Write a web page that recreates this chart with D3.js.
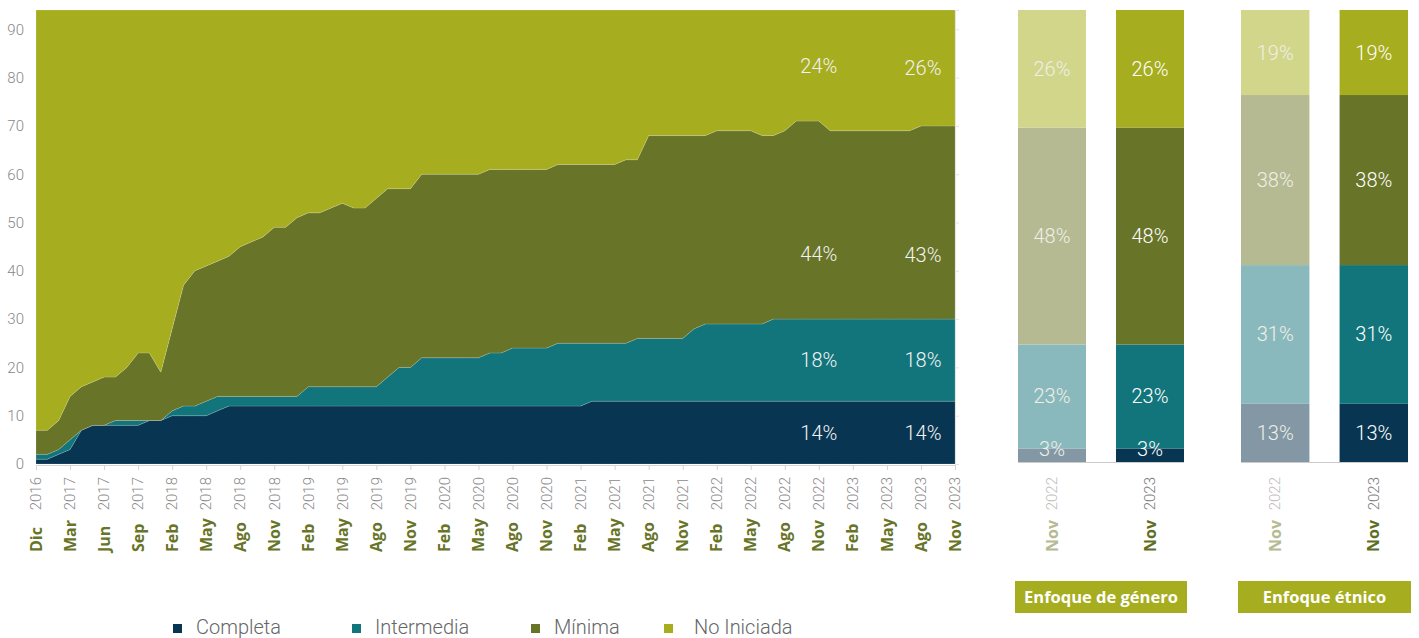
<!DOCTYPE html>
<html>
<head>
<meta charset="utf-8">
<script src="https://cdn.jsdelivr.net/npm/d3@7"></script>
<style>
body { margin: 0; background: #fff; }
svg { display: block; font-family: Roboto, sans-serif; }
</style>
</head>
<body>
<svg id="chart" width="1419" height="638"></svg>
<script>
// series names, bottom to top
var seriesNames = ["Completa", "Intermedia", "Mínima", "No Iniciada"];

// x tick labels (one every 3 data points)
var tickMonths = ["Dic", "Mar", "Jun", "Sep", "Feb", "May", "Ago", "Nov", "Feb", "May", "Ago", "Nov",
    "Feb", "May", "Ago", "Nov", "Feb", "May", "Ago", "Nov", "Feb", "May", "Ago", "Nov",
    "Feb", "May", "Ago", "Nov"];
var tickYears = ["2016", "2017", "2017", "2017", "2018", "2018", "2018", "2018", "2019", "2019", "2019", "2019",
    "2020", "2020", "2020", "2020", "2021", "2021", "2021", "2021", "2022", "2022", "2022", "2022",
    "2023", "2023", "2023", "2023"];

// number of measures in each state, per report
var completa = [1, 1, 2, 3, 7, 8, 8, 8, 8, 8, 9, 9, 10, 10, 10, 10, 11,
    12, 12, 12, 12, 12, 12, 12, 12, 12, 12, 12, 12, 12, 12, 12, 12, 12, 12, 12, 12, 12, 12, 12, 12, 12, 12, 12, 12, 12, 12, 12, 12,
    13, 13, 13, 13, 13, 13, 13, 13, 13, 13, 13, 13, 13, 13, 13, 13, 13, 13, 13, 13, 13, 13, 13, 13, 13, 13, 13, 13, 13, 13, 13, 13, 13];
var intermedia = [1, 1, 1, 2, 0, 0, 0, 1, 1, 1, 0, 0, 1, 2, 2, 3, 3, 2, 2, 2, 2, 2, 2, 2,
    4, 4, 4, 4, 4, 4, 4, 6, 8, 8, 10, 10, 10, 10, 10, 10, 11, 11, 12, 12, 12, 12, 13, 13, 13,
    12, 12, 12, 12, 13, 13, 13, 13, 13, 15, 16, 16, 16, 16, 16, 16,
    17, 17, 17, 17, 17, 17, 17, 17, 17, 17, 17, 17, 17, 17, 17, 17, 17];
var minima = [5, 5, 6, 9, 9, 9, 10, 9, 11, 14, 14, 10, 17, 25, 28, 28, 28, 29, 31, 32, 33, 35, 35, 37,
    36, 36, 37, 38, 37, 37, 39, 39, 37, 37, 38, 38, 38, 38, 38, 38, 38, 38, 37, 37, 37, 37, 37, 37, 37,
    37, 37, 37, 38, 37, 42, 42, 42, 42, 40, 39, 40, 40, 40, 40, 39, 38, 39, 41, 41, 41,
    39, 39, 39, 39, 39, 39, 39, 39, 40, 40, 40, 40];
var noIniciada = [87, 87, 85, 80, 78, 77, 76, 76, 74, 71, 71, 75, 66, 57, 54, 53, 52, 51, 49, 48, 47, 45, 45, 43,
    42, 42, 41, 40, 41, 41, 39, 37, 37, 37, 34, 34, 34, 34, 34, 34, 33, 33, 33, 33, 33, 33, 32, 32, 32,
    32, 32, 32, 31, 31, 26, 26, 26, 26, 26, 26, 25, 25, 25, 25, 26, 26, 25, 23, 23, 23,
    25, 25, 25, 25, 25, 25, 25, 25, 24, 24, 24, 24];

// indexes of the two reports that get % labels
var labelPoints = [69, 81];

// side bars (%)
var barPeriods = ["Nov 2022", "Nov 2023"];
var genero2022 = [3, 23, 48, 26];
var genero2023 = [3, 23, 48, 26];
var etnico2022 = [13, 31, 38, 19];
var etnico2023 = [13, 31, 38, 19];

var colors = ["#083652", "#12757c", "#687427", "#a6ad1e"];
var faded = ["#8397a5", "#8ab9bd", "#b5ba92", "#d2d68b"];

var svg = d3.select("#chart");

// ---------- area chart ----------
var rows = completa.map(function(d, i) {
    return {
        "Completa": completa[i],
        "Intermedia": intermedia[i],
        "Mínima": minima[i],
        "No Iniciada": noIniciada[i]
    };
});

var stack = d3.stack().keys(seriesNames)(rows);

var x = d3.scaleLinear()
    .domain([0, rows.length - 1])
    .range([36, 955]);

var y = d3.scaleLinear()
    .domain([0, d3.max(stack[stack.length - 1], d => d[1])])
    .range([464, 10]);

var area = d3.area()
    .x((d, i) => x(i))
    .y0(d => y(d[0]))
    .y1(d => y(d[1]));

svg.append("g")
    .selectAll("path")
    .data(stack)
    .enter()
    .append("path")
    .attr("d", area)
    .attr("fill", (d, i) => colors[i])
    .attr("stroke", "rgba(255,255,255,0.25)")
    .attr("stroke-width", 0.6);

// left axis labels
var leftAxis = svg.append("g")
    .attr("transform", "translate(36,0)")
    .call(d3.axisLeft(y).tickValues(d3.range(0, 91, 10)).tickSize(0).tickPadding(12));
leftAxis.select(".domain").remove();
leftAxis.selectAll("text")
    .attr("font-family", "Roboto")
    .attr("font-size", 15)
    .attr("font-weight", 300)
    .attr("fill", "#888");

// faint right axis
var rightAxis = svg.append("g")
    .attr("transform", "translate(955,0)")
    .call(d3.axisRight(y).tickValues(d3.range(0, 91, 10)).tickSize(4).tickFormat(""));
rightAxis.selectAll("path, line").attr("stroke", "#e4e4e4");

// bottom axis
var tickIdx = d3.range(0, rows.length, 3);
var bottomAxis = svg.append("g")
    .attr("transform", "translate(0,465)")
    .call(d3.axisBottom(x).tickValues(tickIdx).tickSize(5).tickFormat(""));
bottomAxis.selectAll("path, line").attr("stroke", "#d4d4d4");

function rotLabel(g, cx, month, year, monthColor, yearColor) {
    g.append("text")
        .attr("transform", `translate(${cx},477) rotate(-90)`)
        .attr("text-anchor", "end")
        .attr("dy", "0.35em")
        .attr("font-family", "Roboto")
        .attr("font-weight", 300)
        .attr("font-size", 15)
        .attr("fill", yearColor)
        .text(year);
    g.append("text")
        .attr("transform", `translate(${cx},552) rotate(-90)`)
        .attr("text-anchor", "start")
        .attr("dy", "0.35em")
        .attr("font-family", "Open Sans")
        .attr("font-weight", 700)
        .attr("font-size", 16)
        .attr("fill", monthColor)
        .text(month);
}

var xLabels = svg.append("g");
tickIdx.forEach(function(idx, k) {
    rotLabel(xLabels, x(idx), tickMonths[k], tickYears[k], "#687427", "#8a8a8a");
});

// % labels inside the area (the Mínima one sits lower in its band)
var labelShift = [0, -32];
var labelFrac = [0.5, 0.5, 0.33, 0.5];
labelPoints.forEach(function(idx, k) {
    var total = d3.sum(seriesNames, s => rows[idx][s]);
    stack.forEach(function(layer, j) {
        var seg = layer[idx];
        var v = seg[1] - seg[0];
        svg.append("text")
            .attr("x", x(idx) + labelShift[k])
            .attr("y", y(seg[0] + v * labelFrac[j]))
            .attr("dy", "0.35em")
            .attr("text-anchor", "middle")
            .attr("font-family", "Roboto")
            .attr("font-weight", 300)
            .attr("font-size", 20)
            .attr("fill", "#f2f2f2")
            .text(Math.round(v / total * 100) + "%");
    });
});

// ---------- side bars ----------
var yBar = d3.scaleLinear().domain([0, 1]).range([462, 10]);

function drawPanel(values, range, title) {
    var data = barPeriods.map(function(p, i) {
        var row = { period: p };
        seriesNames.forEach(function(s, j) { row[s] = values[i][j]; });
        return row;
    });

    var xb = d3.scaleBand()
        .domain(barPeriods)
        .range(range)
        .paddingInner(0.306);

    var layers = d3.stack().keys(seriesNames).offset(d3.stackOffsetExpand)(data);

    var g = svg.append("g");
    var gText = svg.append("g");

    layers.forEach(function(layer, j) {
        layer.forEach(function(seg, i) {
            var old = i === 0;
            g.append("rect")
                .attr("x", xb(seg.data.period))
                .attr("y", yBar(seg[1]))
                .attr("width", xb.bandwidth())
                .attr("height", yBar(seg[0]) - yBar(seg[1]))
                .attr("fill", old ? faded[j] : colors[j]);

            var mid = (yBar(seg[0]) + yBar(seg[1])) / 2;
            gText.append("text")
                .attr("x", xb(seg.data.period) + xb.bandwidth() / 2)
                .attr("y", Math.min(mid, yBar(0) - 13))
                .attr("dy", "0.35em")
                .attr("text-anchor", "middle")
                .attr("font-family", "Roboto")
                .attr("font-weight", 300)
                .attr("font-size", 20)
                .attr("fill", old ? "#eef0e6" : "#ffffff")
                .text(seg.data[seriesNames[j]] + "%");
        });
    });

    // baseline
    g.append("line")
        .attr("x1", range[0]).attr("x2", range[1])
        .attr("y1", yBar(0) + 0.5).attr("y2", yBar(0) + 0.5)
        .attr("stroke", "#cccccc");

    barPeriods.forEach(function(p, i) {
        var parts = p.split(" ");
        rotLabel(g, xb(p) + xb.bandwidth() / 2, parts[0], parts[1],
            i === 0 ? "#b5ba92" : "#5f6e1f", i === 0 ? "#bdbdbd" : "#777777");
    });

    // title box
    g.append("rect")
        .attr("x", range[0] - 3)
        .attr("y", 581)
        .attr("width", range[1] - range[0] + 6)
        .attr("height", 32)
        .attr("fill", "#a6ad1e");
    g.append("text")
        .attr("x", (range[0] + range[1]) / 2)
        .attr("y", 597)
        .attr("dy", "0.35em")
        .attr("text-anchor", "middle")
        .attr("font-family", "Open Sans")
        .attr("font-weight", 700)
        .attr("font-size", 16.5)
        .attr("fill", "#fff")
        .text(title);
}

drawPanel([genero2022, genero2023], [1018, 1184], "Enfoque de género");
drawPanel([etnico2022, etnico2023], [1241, 1408], "Enfoque étnico");

// ---------- legend ----------
var legendX = [173, 352, 531, 664];
var legend = svg.append("g");
seriesNames.forEach(function(s, i) {
    legend.append("rect")
        .attr("x", legendX[i])
        .attr("y", 624)
        .attr("width", 9)
        .attr("height", 9)
        .attr("fill", colors[i]);
    legend.append("text")
        .attr("x", legendX[i] + (i === 3 ? 30 : 23))
        .attr("y", 634)
        .attr("font-family", "Roboto")
        .attr("font-weight", 300)
        .attr("font-size", 20)
        .attr("fill", "#666")
        .text(s);
});
</script>
</body>
</html>
